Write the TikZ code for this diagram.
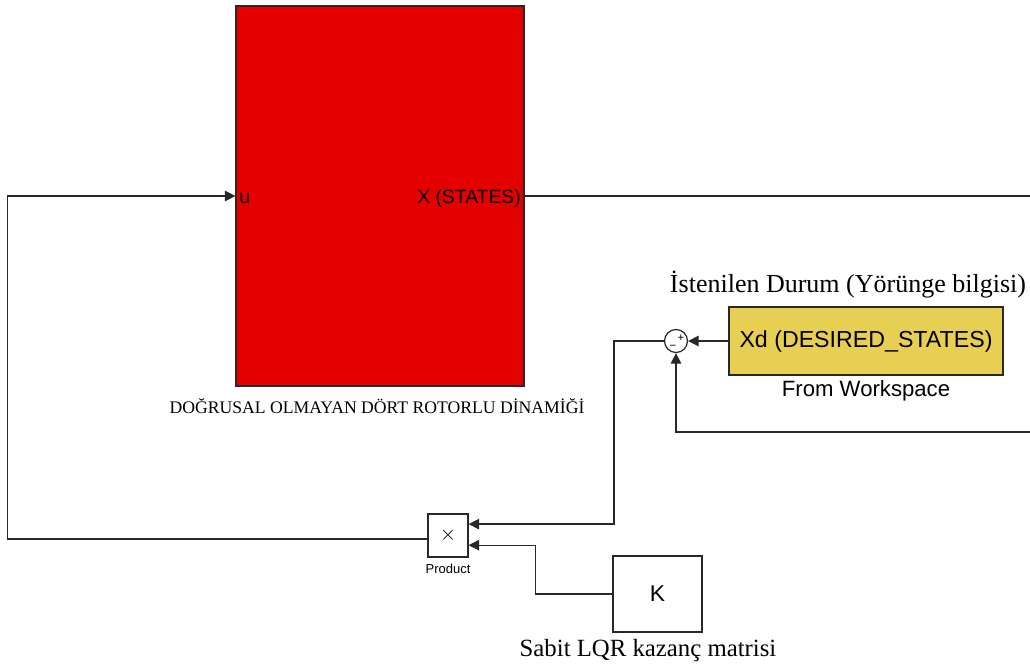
\documentclass[tikz,border=0pt]{standalone}
\usepackage{fontspec}
\setmainfont{Liberation Serif}
\setsansfont{Liberation Sans}
\usepackage{tikz}
\usetikzlibrary{arrows.meta,positioning,calc}
\usepackage{xcolor}
\definecolor{plantred}{RGB}{229,0,0}
\definecolor{refgold}{RGB}{230,207,83}
\definecolor{edgegray}{RGB}{40,40,40}
\tikzset{
  blk/.style    ={rectangle, draw=edgegray, fill=white, line width=0.7pt,
                  font=\sffamily, inner sep=2pt},
  plant/.style  ={blk, fill=plantred, minimum width=5.76cm, minimum height=7.6cm},
  wsblk/.style  ={blk, fill=refgold, minimum width=5.48cm, minimum height=1.36cm,
                  font=\sffamily\fontsize{13.2}{15}\selectfont},
  sumj/.style   ={circle, draw=edgegray, fill=white, line width=0.7pt,
                  minimum size=0.46cm, inner sep=0pt},
  port/.style   ={inner sep=2pt, yshift=-1.5pt, font=\sffamily\fontsize{11}{13}\selectfont},
  lbl/.style    ={font=\fontsize{14.1}{17}\selectfont, inner sep=0pt},
  sig/.style    ={-{Triangle[length=2.1mm,width=2.1mm]}, line width=0.7pt, draw=edgegray},
  wire/.style   ={line width=0.7pt, draw=edgegray},
}

\begin{document}
\begin{tikzpicture}[x=0.02cm, y=-0.02cm]
  \useasboundingbox (0,0) rectangle (1030,670);
  % bloklar
  \node[plant]  (quad)  at (380,196) {};
  \node[wsblk]  (xd)    at (866,341) {Xd (DESIRED\_STATES)};
  \node[sumj]   (sum)   at (676,341) {};
  \node[blk, minimum width=0.8cm, minimum height=0.86cm,
        font=\sffamily\fontsize{13}{15}\selectfont] (prod) at (448,535.5) {$\times$};
  \node[blk, minimum width=1.78cm, minimum height=1.52cm,
        font=\sffamily\fontsize{13}{15}\selectfont] (kgain) at (657.5,594) {K};
  % portlar ve isaretler
  \node[port, anchor=west] at (quad.west) {u};
  \node[port, anchor=east] at (quad.east) {X (STATES)};
  \node[font=\sffamily\fontsize{6.5}{7}\selectfont, inner sep=0pt] at (681,338) {+};
  \node[font=\sffamily\fontsize{6.5}{7}\selectfont, inner sep=0pt] at (673,347) {\textminus};
  % etiketler
  \node[lbl, font=\fontsize{10.05}{12}\selectfont] (plantlbl) at (377,406) {DOĞRUSAL OLMAYAN DÖRT ROTORLU DİNAMİĞİ};
  \node[lbl, font=\fontsize{14.8}{17}\selectfont] (reflbl)   at (848,285) {İstenilen Durum (Yörünge bilgisi)};
  \node[lbl, font=\sffamily\fontsize{12.6}{15}\selectfont] (wslbl) at (866,391) {From Workspace};
  \node[lbl, font=\sffamily\fontsize{7.4}{9}\selectfont] (prodlbl) at (448,569) {Product};
  \node[lbl] (klbl) at (648,651) {Sabit LQR kazanç matrisi};
  % sinyaller
  \coordinate (xout) at (1030,196);
  \coordinate (fbk)  at (1030,432);
  \draw[wire] (quad.east) -- (xout);
  \draw[sig] (xd.west) -- (sum.east);
  \draw[sig] (fbk) -| (sum.south);
  \draw[sig] (sum.west) -- ++(-50,0) |- ([yshift=6.5pt]prod.east);
  \draw[sig] (kgain.west) -- ++(-77,0) |- ([yshift=-5.5pt]prod.east);
  \draw[sig] ([yshift=-2pt]prod.west) -- ++(-420,0) |- (quad.west);
\end{tikzpicture}
\end{document}
